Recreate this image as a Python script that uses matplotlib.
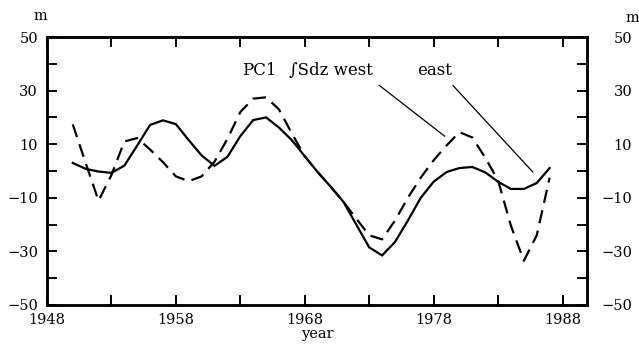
import numpy as np
import matplotlib
matplotlib.use("Agg")
import matplotlib.pyplot as plt

# annual series, 1950-1987
years = np.arange(1950, 1988)
pc1 = [3.0, 0.8, -0.2, -0.7, 2.0, 9.5, 17.2, 18.9, 17.5, 11.5,
       5.8, 1.9, 5.3, 13.0, 19.0, 20.0, 16.2, 11.5, 5.5, -0.4,
       -5.8, -11.5, -20.0, -28.5, -31.5, -26.5, -18.5, -10.0, -4.0, -0.4,
       1.1, 1.5, -0.5, -4.0, -6.7, -6.7, -4.5, 1.1]
sdz = [17.4, 3.0, -11.1, -1.5, 11.0, 12.3, 8.0, 3.3, -2.0, -3.8,
       -2.0, 3.5, 12.0, 22.0, 27.0, 27.5, 23.0, 14.0, 5.5, -0.4,
       -5.8, -11.5, -17.8, -24.0, -25.5, -18.5, -10.0, -2.5, 4.0, 9.5,
       14.5, 12.5, 5.0, -3.5, -20.5, -33.5, -24.0, -2.5]

xticks_major = [1948, 1958, 1968, 1978, 1988]
yticks_major = [50, 30, 10, -10, -30, -50]

plt.rcParams["font.family"] = ["DejaVu Serif", "DejaVu Sans"]

fig = plt.figure(figsize=(6.39, 3.46), dpi=100)
ax = fig.add_axes([47 / 639, 1 - 305 / 346, 540 / 639, 268 / 346])

ax.plot(years, pc1, color="black", lw=1.6, solid_joinstyle="miter")
ax.plot(years, sdz, color="black", lw=1.6, linestyle=(0, (6.0, 3.4)))

ax.set_xlim(1948, 1989.9)
ax.set_ylim(-50, 50)

ax.set_xticks(xticks_major)
ax.set_xticks(np.arange(1953, 1990, 10), minor=True)
ax.set_yticks(yticks_major)
ax.set_yticks([40, 20, 0, -20, -40], minor=True)
ax.set_yticklabels([f"{v:d}".replace("-", "\u2212") for v in yticks_major])

for which in ("major", "minor"):
    ax.tick_params(axis="both", which=which, direction="in", length=7, width=1.4,
                   top=True, right=True, labelsize=10.5)
ax.tick_params(axis="y", which="major", pad=6.5)
ax.tick_params(axis="x", which="major", pad=6)
for s in ax.spines.values():
    s.set_linewidth(1.8)

# right-hand scale, same values
ax2 = ax.twinx()
ax2.set_ylim(-50, 50)
ax2.set_yticks(yticks_major)
ax2.set_yticks([40, 20, 0, -20, -40], minor=True)
ax2.set_yticklabels([f"{v:d}".replace("-", "\u2212") for v in yticks_major])
for which in ("major", "minor"):
    ax2.tick_params(axis="y", which=which, direction="in", length=7, width=1.4,
                    labelsize=10.5)
ax2.tick_params(axis="y", which="major", pad=32.5)
for lbl in ax2.get_yticklabels():
    lbl.set_horizontalalignment("right")
for s in ax2.spines.values():
    s.set_linewidth(1.8)

ax.set_xlabel("year", fontsize=10.5, labelpad=0)

fig.text(40 / 639, 1 - 20 / 346, "m", fontsize=10.5, ha="center", va="baseline")
fig.text(632 / 639, 1 - 22 / 346, "m", fontsize=10.5, ha="center", va="baseline")

# curve labels with leader lines
ax.text(1963.1, 35.9, "PC1", fontsize=12, ha="left", va="baseline")
ax.text(1966.8, 35.9, "\u222bSdz west", fontsize=12, ha="left", va="baseline")
ax.text(1976.7, 35.9, "east", fontsize=12, ha="left", va="baseline")
ax.plot([1973.8, 1978.85], [31.9, 13.0], color="black", lw=0.9)
ax.plot([1979.5, 1985.7], [31.9, -0.4], color="black", lw=0.9)

fig.savefig("out.png", dpi=100)
